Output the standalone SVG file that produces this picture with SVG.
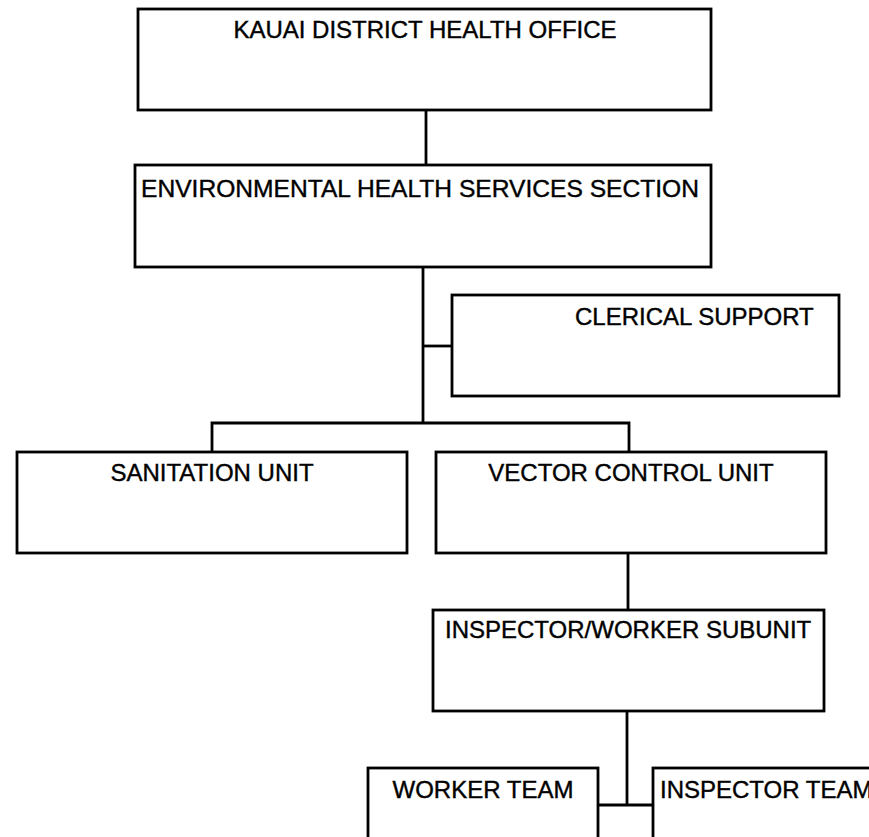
<svg xmlns="http://www.w3.org/2000/svg" width="869" height="837" viewBox="0 0 869 837">
<style>
.box{fill:#fff;stroke:#000;stroke-width:2.8}
.lbl{font-family:"Liberation Sans",Arial,sans-serif;font-size:24px;fill:#000;stroke:#000;stroke-width:0.4}
.mid{text-anchor:middle}
.conn{fill:none;stroke:#000;stroke-width:2.8}
</style>
<rect width="869" height="837" fill="#fff"/>
<g id="connectors">
<line class="conn" x1="426" y1="110" x2="426" y2="165"/>
<line class="conn" x1="423" y1="267" x2="423" y2="423"/>
<line class="conn" x1="423" y1="346" x2="452" y2="346"/>
<polyline class="conn" points="212,452 212,423 629,423 629,452"/>
<line class="conn" x1="628" y1="553" x2="628" y2="610"/>
<line class="conn" x1="627" y1="711" x2="627" y2="805"/>
<line class="conn" x1="598" y1="805" x2="653" y2="805"/>
</g>
<g id="kauai">
<rect class="box" x="138" y="9" width="573" height="101"/>
<text class="lbl mid" x="425" y="38">KAUAI DISTRICT HEALTH OFFICE</text>
</g>
<g id="env">
<rect class="box" x="135" y="165" width="576" height="102"/>
<text class="lbl" x="141" y="197" textLength="558" lengthAdjust="spacingAndGlyphs">ENVIRONMENTAL HEALTH SERVICES SECTION</text>
</g>
<g id="clerical">
<rect class="box" x="452" y="295" width="387" height="101"/>
<text class="lbl" x="575" y="325">CLERICAL SUPPORT</text>
</g>
<g id="sanitation">
<rect class="box" x="17" y="452" width="390" height="101"/>
<text class="lbl mid" x="212" y="481">SANITATION UNIT</text>
</g>
<g id="vector">
<rect class="box" x="436" y="452" width="390" height="101"/>
<text class="lbl mid" x="631" y="481">VECTOR CONTROL UNIT</text>
</g>
<g id="subunit">
<rect class="box" x="433" y="610" width="391" height="101"/>
<text class="lbl" x="445" y="638">INSPECTOR/WORKER SUBUNIT</text>
</g>
<g id="worker">
<rect class="box" x="368" y="768" width="230" height="90"/>
<text class="lbl mid" x="483" y="798">WORKER TEAM</text>
</g>
<g id="inspector">
<rect class="box" x="653" y="768" width="240" height="90"/>
<text class="lbl" x="660" y="798">INSPECTOR TEAM</text>
</g>
</svg>
